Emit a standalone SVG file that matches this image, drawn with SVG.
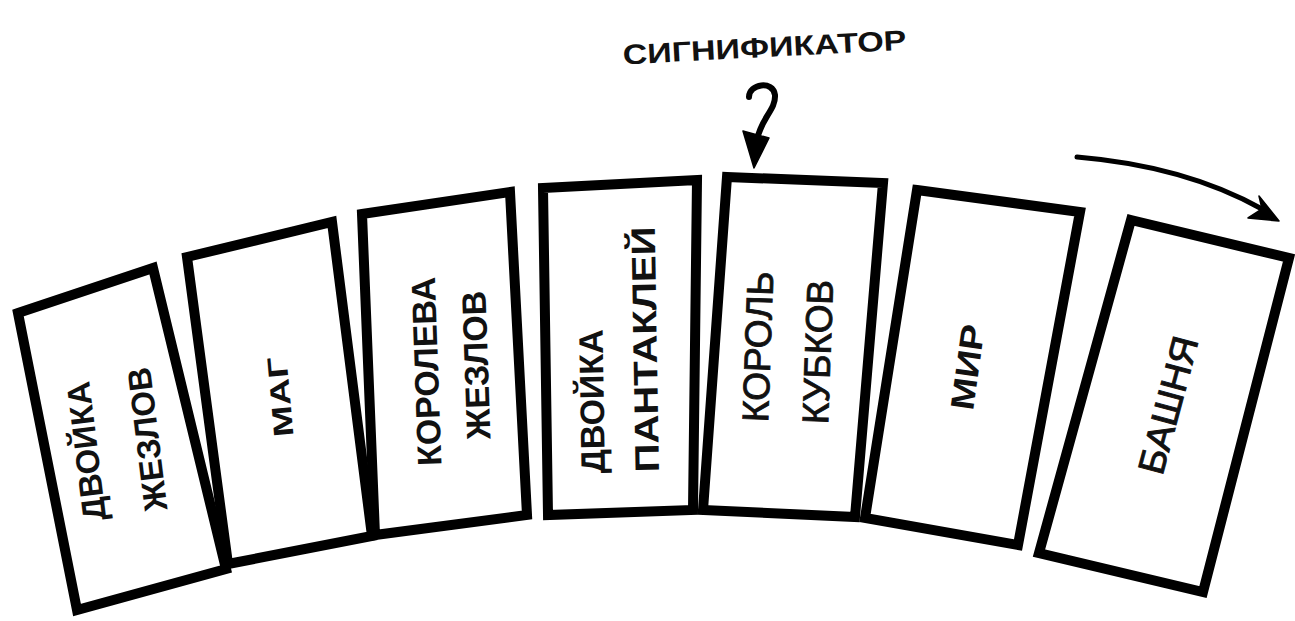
<svg xmlns="http://www.w3.org/2000/svg" width="1295" height="621" viewBox="0 0 1295 621">
  <style>
    .card { fill: #ffffff; stroke: #000000; stroke-width: 10; stroke-linejoin: miter; }
    .lbl { font-family: "Liberation Sans", Arial, sans-serif; fill: #111111; }
    .b { font-weight: bold; }
    .n { font-weight: normal; stroke: #111111; stroke-width: 0.9; }
    .conn { fill: none; stroke: #000000; stroke-linecap: round; }
    .head { fill: #000000; stroke: #000000; stroke-width: 1.5; stroke-linejoin: round; }
  </style>
  <rect x="0" y="0" width="1295" height="621" fill="#ffffff"/>

  <g id="card1">
    <polygon class="card" points="18,313 153,268 226,569 77,610"/>
    <text class="lbl b" font-size="33" text-anchor="middle" transform="translate(116,443) rotate(-97)">
      <tspan x="0" y="-19">ДВОЙКА</tspan>
      <tspan x="0" y="43">ЖЕЗЛОВ</tspan>
    </text>
  </g>

  <g id="card2">
    <polygon class="card" points="187,257 332,222 372,536 228,564"/>
    <text class="lbl b" font-size="28" text-anchor="middle" textLength="80" lengthAdjust="spacingAndGlyphs" transform="translate(280,397) rotate(-95)" y="10">МАГ</text>
  </g>

  <g id="card3">
    <polygon class="card" points="362,214 510,192 527,515 375,535"/>
    <text class="lbl b" font-size="34" text-anchor="middle" transform="translate(451,366) rotate(-92)">
      <tspan x="0" y="-13">КОРОЛЕВА</tspan>
      <tspan x="0" y="37">ЖЕЗЛОВ</tspan>
    </text>
  </g>

  <g id="card4">
    <polygon class="card" points="543,188 697,180 693,510 548,515"/>
    <text class="lbl b" font-size="34" text-anchor="start" transform="translate(620,473) rotate(-91)">
      <tspan x="0" y="-15">ДВОЙКА</tspan>
      <tspan x="0" y="39" textLength="246" lengthAdjust="spacingAndGlyphs">ПАНТАКЛЕЙ</tspan>
    </text>
  </g>

  <g id="card5">
    <polygon class="card" points="727,177 883,183 855,517 703,510"/>
    <text class="lbl n" font-size="37" text-anchor="start" transform="translate(785,423) rotate(-88)">
      <tspan x="0" y="-17">КОРОЛЬ</tspan>
      <tspan x="0" y="43">КУБКОВ</tspan>
    </text>
  </g>

  <g id="card6">
    <polygon class="card" points="917,190 1080,212 1018,545 865,518"/>
    <text class="lbl b" font-size="33" text-anchor="middle" textLength="86" lengthAdjust="spacingAndGlyphs" transform="translate(967,367) rotate(-82)" y="12">МИР</text>
  </g>

  <g id="card7">
    <polygon class="card" points="1131,220 1289,258 1203,592 1039,553"/>
    <text class="lbl n" font-size="37" text-anchor="middle" textLength="141" lengthAdjust="spacingAndGlyphs" transform="translate(1168,405) rotate(-75)" y="13">БАШНЯ</text>
  </g>

  <g id="label-significator">
    <text class="lbl b" font-size="28" text-anchor="middle" textLength="284" lengthAdjust="spacingAndGlyphs" transform="translate(765,57) rotate(-3)" x="0" y="0">СИГНИФИКАТОР</text>
  </g>

  <g id="connectors">
    <g id="arrow-significator">
      <path class="conn" stroke-width="6" d="M749,97 C749,84 773,80 775,95 C776,110 761,118 757,140"/>
      <polygon class="head" points="743,131 769,138 754,168"/>
    </g>
    <g id="arrow-direction">
      <path class="conn" stroke-width="5" d="M1077,157 Q1185,166 1262,209"/>
      <polygon class="head" points="1259,196 1279,221 1248,218 1262,209"/>
    </g>
  </g>
</svg>
